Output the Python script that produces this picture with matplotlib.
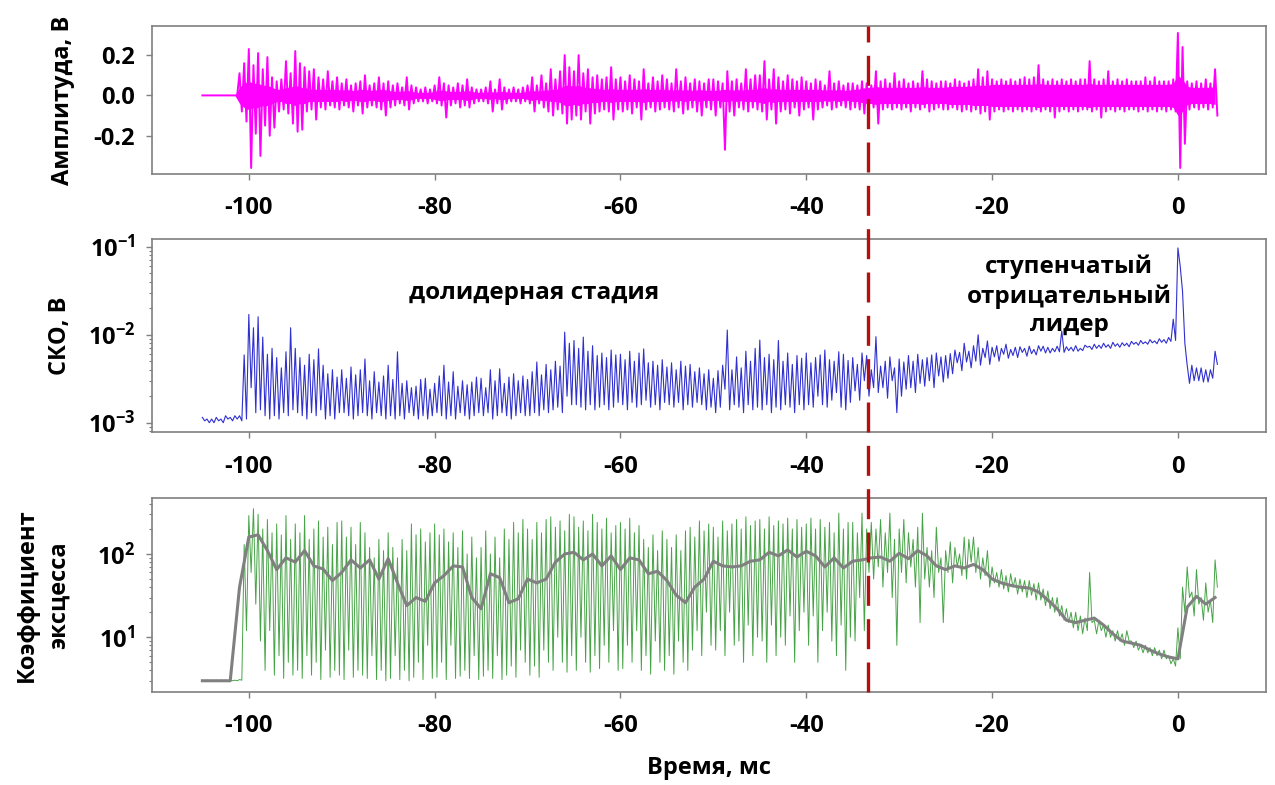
import numpy as np
import matplotlib
matplotlib.use('Agg')
import matplotlib.pyplot as plt
from matplotlib.lines import Line2D
from matplotlib.transforms import blended_transform_factory
from matplotlib.ticker import NullFormatter

plt.rcParams['font.family'] = ['Open Sans', 'DejaVu Sans']
plt.rcParams['font.weight'] = 'bold'
plt.rcParams['axes.unicode_minus'] = False
plt.rcParams['mathtext.fontset'] = 'custom'
plt.rcParams['mathtext.rm'] = 'Open Sans:bold'
plt.rcParams['mathtext.it'] = 'Open Sans:bold'
plt.rcParams['mathtext.bf'] = 'Open Sans:bold'
plt.rcParams['mathtext.default'] = 'regular'

# time grid, ms (bins of 0.5 ms, -105 .. 4)
t = np.arange(-105, 4.001, 0.5)

# amplitude, V: max and min in each bin
amp_hi = [0, 0, 0, 0, 0, 0, 0, 0, 0.11, 0.16,
          0.23, 0.15, 0.21, 0.13, 0.19, 0.09, 0.07, 0.08, 0.17, 0.11,
          0.22, 0.16, 0.14, 0.12, 0.13, 0.09, 0.08, 0.12, 0.07, 0.09,
          0.06, 0.08, 0.05, 0.06, 0.07, 0.10, 0.05, 0.06, 0.09, 0.06,
          0.07, 0.05, 0.06, 0.04, 0.09, 0.05, 0.04, 0.03, 0.04, 0.03,
          0.05, 0.09, 0.06, 0.05, 0.04, 0.06, 0.05, 0.08, 0.04, 0.03,
          0.03, 0.04, 0.07, 0.03, 0.08, 0.04, 0.03, 0.04, 0.03, 0.04,
          0.05, 0.09, 0.05, 0.10, 0.06, 0.13, 0.08, 0.12, 0.20, 0.14,
          0.12, 0.20, 0.11, 0.13, 0.09, 0.10, 0.08, 0.09, 0.14, 0.08,
          0.09, 0.07, 0.10, 0.08, 0.07, 0.13, 0.06, 0.09, 0.07, 0.10,
          0.08, 0.06, 0.13, 0.07, 0.09, 0.06, 0.08, 0.07, 0.06, 0.08,
          0.08, 0.07, 0.06, 0.12, 0.07, 0.08, 0.06, 0.13, 0.08, 0.10,
          0.10, 0.17, 0.08, 0.13, 0.09, 0.07, 0.10, 0.08, 0.07, 0.09,
          0.07, 0.06, 0.08, 0.07, 0.05, 0.12, 0.06, 0.07, 0.05, 0.06,
          0.06, 0.05, 0.07, 0.06, 0.05, 0.12, 0.07, 0.08, 0.06, 0.11,
          0.07, 0.08, 0.06, 0.07, 0.06, 0.12, 0.08, 0.07, 0.06, 0.07,
          0.07, 0.06, 0.08, 0.07, 0.06, 0.07, 0.08, 0.13, 0.09, 0.12,
          0.08, 0.07, 0.08, 0.07, 0.08, 0.07, 0.08, 0.09, 0.08, 0.09,
          0.15, 0.08, 0.07, 0.08, 0.07, 0.08, 0.07, 0.08, 0.07, 0.08,
          0.08, 0.17, 0.08, 0.07, 0.08, 0.12, 0.07, 0.08, 0.07, 0.08,
          0.07, 0.07, 0.07, 0.09, 0.07, 0.09, 0.07, 0.07, 0.07, 0.08,
          0.31, 0.24, 0.07, 0.06, 0.07, 0.06, 0.08, 0.06, 0.13]
amp_lo = [0, 0, 0, 0, 0, 0, 0, 0, -0.08, -0.13,
          -0.36, -0.19, -0.30, -0.15, -0.20, -0.16, -0.08, -0.07, -0.09, -0.14,
          -0.18, -0.17, -0.08, -0.07, -0.12, -0.06, -0.07, -0.05, -0.06, -0.07,
          -0.05, -0.06, -0.08, -0.05, -0.09, -0.06, -0.05, -0.06, -0.07, -0.10,
          -0.06, -0.05, -0.04, -0.05, -0.07, -0.04, -0.03, -0.03, -0.04, -0.03,
          -0.04, -0.05, -0.11, -0.05, -0.04, -0.06, -0.05, -0.06, -0.04, -0.03,
          -0.03, -0.04, -0.08, -0.04, -0.07, -0.04, -0.03, -0.03, -0.04, -0.03,
          -0.04, -0.08, -0.04, -0.06, -0.08, -0.10, -0.07, -0.09, -0.14, -0.12,
          -0.10, -0.12, -0.08, -0.14, -0.09, -0.08, -0.07, -0.08, -0.12, -0.07,
          -0.08, -0.07, -0.09, -0.06, -0.12, -0.07, -0.06, -0.08, -0.07, -0.06,
          -0.07, -0.08, -0.06, -0.09, -0.07, -0.06, -0.08, -0.10, -0.06, -0.07,
          -0.10, -0.06, -0.27, -0.08, -0.10, -0.06, -0.07, -0.08, -0.06, -0.07,
          -0.08, -0.12, -0.07, -0.14, -0.08, -0.07, -0.09, -0.06, -0.10, -0.07,
          -0.06, -0.12, -0.07, -0.06, -0.05, -0.07, -0.06, -0.05, -0.06, -0.07,
          -0.06, -0.07, -0.09, -0.05, -0.06, -0.14, -0.07, -0.06, -0.07, -0.06,
          -0.07, -0.06, -0.08, -0.06, -0.07, -0.06, -0.08, -0.07, -0.06, -0.07,
          -0.07, -0.06, -0.07, -0.08, -0.07, -0.08, -0.07, -0.09, -0.08, -0.12,
          -0.08, -0.07, -0.08, -0.07, -0.08, -0.07, -0.08, -0.07, -0.08, -0.07,
          -0.08, -0.07, -0.08, -0.11, -0.08, -0.07, -0.08, -0.07, -0.08, -0.07,
          -0.07, -0.08, -0.07, -0.11, -0.08, -0.07, -0.08, -0.07, -0.08, -0.07,
          -0.07, -0.08, -0.07, -0.08, -0.07, -0.08, -0.07, -0.08, -0.07, -0.08,
          -0.36, -0.24, -0.07, -0.06, -0.07, -0.06, -0.07, -0.06, -0.10]

# dense core of the amplitude band, V (half-width)
amp_core = [0, 0, 0, 0, 0, 0, 0, 0, 0.04, 0.06,
            0.07, 0.06, 0.06, 0.05, 0.05, 0.04, 0.03, 0.03, 0.04, 0.04,
            0.05, 0.04, 0.04, 0.03, 0.03, 0.03, 0.03, 0.03, 0.03, 0.03,
            0.025, 0.03, 0.025, 0.025, 0.03, 0.03, 0.025, 0.025, 0.03, 0.03,
            0.025, 0.02, 0.02, 0.02, 0.025, 0.02, 0.015, 0.015, 0.015, 0.015,
            0.02, 0.025, 0.025, 0.02, 0.02, 0.02, 0.02, 0.025, 0.02, 0.015,
            0.015, 0.015, 0.02, 0.015, 0.02, 0.02, 0.015, 0.015, 0.015, 0.015,
            0.02, 0.025, 0.02, 0.025, 0.025, 0.03, 0.03, 0.035, 0.05, 0.05,
            0.045, 0.05, 0.04, 0.04, 0.035, 0.035, 0.03, 0.03, 0.035, 0.03,
            0.03, 0.03, 0.03, 0.03, 0.03, 0.035, 0.03, 0.03, 0.03, 0.03,
            0.03, 0.025, 0.03, 0.025, 0.03, 0.025, 0.025, 0.03, 0.025, 0.025,
            0.025, 0.025, 0.03, 0.03, 0.025, 0.03, 0.025, 0.03, 0.03, 0.03,
            0.035, 0.04, 0.03, 0.035, 0.03, 0.03, 0.03, 0.03, 0.03, 0.03,
            0.03, 0.03, 0.03, 0.03, 0.025, 0.03, 0.025, 0.03, 0.025, 0.025,
            0.03, 0.03, 0.035, 0.04, 0.04, 0.045, 0.04, 0.04, 0.04, 0.04,
            0.04, 0.04, 0.04, 0.04, 0.04, 0.045, 0.04, 0.04, 0.04, 0.04,
            0.04, 0.045, 0.045, 0.045, 0.045, 0.045, 0.05, 0.05, 0.05, 0.05,
            0.055, 0.055, 0.055, 0.055, 0.055, 0.055, 0.055, 0.055, 0.055, 0.055,
            0.06, 0.055, 0.055, 0.055, 0.055, 0.055, 0.055, 0.055, 0.055, 0.055,
            0.055, 0.06, 0.055, 0.055, 0.055, 0.055, 0.055, 0.055, 0.055, 0.055,
            0.055, 0.055, 0.055, 0.055, 0.055, 0.055, 0.055, 0.055, 0.055, 0.06,
            0.1, 0.08, 0.045, 0.04, 0.04, 0.04, 0.04, 0.04, 0.045]

# СКО, mV: max and min in each bin
sko_hi = [1.15, 1.1, 1.1, 1.15, 1.1, 1.2, 1.15, 1.2, 1.2, 5.9,
          17, 12, 16, 9.4, 6.0, 7.0, 5.5, 4.2, 6.4, 12,
          7.0, 5.5, 4.5, 6.0, 5.2, 6.9, 4.5, 3.6, 4.0, 3.3,
          4.0, 3.2, 4.3, 3.5, 4.0, 5.3, 3.0, 3.8, 2.9, 3.4,
          4.5, 3.1, 6.4, 2.8, 3.0, 2.5, 2.6, 3.1, 3.2, 2.4,
          2.8, 3.4, 4.5, 2.9, 3.8, 2.6, 3.0, 2.7, 2.9, 3.3,
          3.2, 2.5, 4.0, 3.0, 4.1, 2.8, 3.3, 3.6, 3.0, 3.4,
          3.1, 3.8, 4.9, 3.5, 4.6, 4.0, 5.0, 4.4, 10.7, 8.0,
          8.6, 7.0, 9.4, 6.5, 7.5, 5.8, 6.2, 5.5, 6.7, 5.9,
          6.0, 5.2, 6.5, 5.0, 6.2, 6.9, 4.8, 5.0, 4.5, 5.2,
          4.3, 4.8, 4.0, 5.0, 4.4, 4.6, 3.8, 4.2, 3.6, 4.0,
          3.2, 3.9, 4.5, 11.3, 4.0, 5.6, 4.2, 6.5, 5.0, 7.0,
          8.7, 5.5, 6.0, 5.2, 8.6, 5.0, 6.2, 4.6, 5.8, 5.4,
          6.2, 4.8, 5.5, 5.9, 6.7, 5.2, 5.0, 6.4, 6.0, 5.1,
          5.5, 4.6, 6.2, 5.8, 4.0, 9.5, 4.4, 5.0, 5.6, 4.2,
          5.3, 4.9, 5.8, 5.0, 6.0, 5.2, 5.5, 5.9, 6.2, 5.6,
          5.8, 6.1, 6.7, 6.3, 8.0, 6.5, 7.5, 10.0, 7.0, 8.5,
          7.2, 7.5, 7.0, 7.8, 6.8, 7.2, 7.3, 7.0, 7.4, 6.8,
          7.5, 7.4, 7.2, 7.0, 7.4, 11.0, 7.3, 7.2, 7.5, 7.0,
          7.6, 7.4, 7.8, 7.6, 8.0, 7.7, 8.2, 7.9, 8.1, 8.0,
          8.4, 8.2, 8.6, 8.3, 8.8, 8.5, 9.0, 8.8, 9.3, 15,
          97, 31, 4.5, 4.5, 4.2, 4.2, 4.0, 4.0, 6.5]
sko_lo = [1.05, 1.0, 1.0, 1.05, 1.0, 1.1, 1.05, 1.1, 1.05, 1.1,
          2.5, 1.3, 1.4, 1.2, 1.1, 1.2, 1.1, 1.3, 1.2, 1.4,
          1.3, 1.2, 1.1, 1.3, 1.2, 1.4, 1.1, 1.2, 1.1, 1.3,
          1.3, 1.2, 1.1, 1.2, 1.3, 1.2, 1.1, 1.3, 1.2, 1.1,
          1.2, 1.1, 1.2, 1.1, 1.3, 1.2, 1.1, 1.2, 1.1, 1.2,
          1.3, 1.2, 1.1, 1.2, 1.1, 1.3, 1.2, 1.1, 1.2, 1.3,
          1.2, 1.3, 1.1, 1.2, 1.3, 1.2, 1.1, 1.2, 1.3, 1.2,
          1.2, 1.3, 1.2, 1.4, 1.3, 1.4, 1.5, 1.3, 2.0, 1.6,
          1.6, 1.5, 1.4, 1.6, 1.4, 1.5, 1.6, 1.4, 1.5, 1.7,
          1.6, 1.4, 1.7, 1.5, 1.6, 1.8, 1.5, 1.6, 1.4, 1.7,
          1.6, 1.5, 1.7, 1.4, 1.6, 1.5, 1.7, 1.6, 1.4, 1.5,
          1.3, 1.5, 2.4, 1.4, 1.6, 1.5, 1.3, 1.6, 1.4, 1.5,
          1.4, 1.6, 1.3, 1.5, 1.4, 1.6, 1.5, 1.3, 1.6, 1.4,
          1.6, 1.5, 2.0, 1.6, 1.5, 1.8, 2.2, 1.5, 1.4, 1.7,
          2.3, 1.8, 3.0, 2.0, 2.5, 2.2, 2.5, 1.9, 3.0, 1.3,
          2.0, 2.4, 2.5, 2.2, 2.8, 2.6, 3.0, 2.5, 3.4, 2.9,
          3.2, 3.6, 4.8, 3.9, 4.9, 4.2, 5.0, 4.5, 5.5, 4.6,
          5.6, 5.0, 6.0, 5.4, 5.8, 5.5, 6.3, 5.7, 6.1, 5.9,
          6.5, 6.2, 6.2, 6.4, 6.4, 6.3, 6.6, 6.5, 6.5, 6.6,
          7.2, 6.8, 7.0, 7.0, 7.2, 7.0, 7.4, 7.2, 7.5, 7.3,
          7.8, 7.6, 7.9, 7.8, 8.1, 7.9, 8.2, 8.0, 8.4, 8.6,
          60, 8.0, 2.8, 3.0, 3.0, 2.9, 2.9, 3.2, 4.6]

# коэффициент эксцесса: max and min in each bin
kurt_hi = [3.05, 3.05, 3.05, 3.05, 3.05, 3.05, 3.05, 3.05, 3.1, 130,
           290, 350, 300, 200, 260, 180, 230, 170, 290, 150,
           230, 180, 290, 150, 200, 250, 160, 210, 130, 240,
           250, 160, 210, 130, 240, 180, 120, 90, 150, 110,
           180, 120, 90, 150, 110, 230, 170, 200, 140, 180,
           230, 170, 200, 140, 180, 120, 190, 100, 160, 90,
           120, 190, 100, 160, 90, 200, 150, 240, 180, 260,
           200, 150, 240, 180, 260, 280, 210, 250, 190, 300,
           280, 210, 250, 190, 300, 240, 200, 270, 180, 220,
           240, 200, 270, 180, 220, 150, 120, 170, 110, 190,
           150, 120, 170, 110, 190, 210, 160, 250, 190, 230,
           210, 160, 250, 190, 230, 260, 200, 280, 220, 250,
           260, 200, 280, 220, 250, 230, 270, 200, 260, 210,
           230, 270, 200, 260, 210, 240, 180, 310, 200, 240,
           240, 180, 310, 200, 240, 200, 260, 180, 310, 150,
           200, 260, 180, 150, 210, 310, 120, 110, 210, 90,
           110, 140, 120, 100, 160, 150, 160, 120, 90, 110,
           70, 60, 65, 55, 58, 52, 50, 48, 48, 44,
           45, 38, 36, 30, 30, 24, 22, 20, 20, 18,
           17, 60, 16, 16, 14, 14, 12, 12, 11, 12,
           9, 9, 8, 8, 7.5, 7.5, 7, 7, 6, 5.5,
           13, 40, 70, 35, 65, 30, 45, 28, 85]
kurt_lo = [3.0, 3.0, 3.0, 3.0, 3.0, 3.0, 3.0, 3.0, 3.05, 12,
           60, 25, 9, 4, 12, 3.5, 6, 3.2, 5, 3.5,
           4, 3.2, 6, 3.5, 5, 3.1, 7, 3.3, 4, 3.5,
           3.1, 7, 3.3, 4, 3.5, 3.2, 6, 3.1, 4, 3.0,
           3.2, 6, 3.1, 4, 3.0, 3.3, 5, 3.1, 8, 3.2,
           3.3, 5, 3.1, 8, 3.2, 3.4, 4, 3.2, 6, 3.1,
           3.4, 4, 3.2, 6, 3.1, 3.5, 4.5, 3.3, 7, 5,
           3.5, 4.5, 3.3, 7, 5, 4, 10, 5, 3.8, 6,
           4, 10, 5, 3.8, 6, 4.2, 8, 5, 12, 4,
           4.2, 8, 5, 12, 4, 6, 3.6, 9, 5, 4,
           6, 3.6, 9, 5, 4, 7, 12, 6, 20, 8,
           7, 12, 6, 20, 8, 9, 5, 14, 6, 10,
           9, 5, 14, 6, 10, 8, 18, 5, 12, 20,
           8, 18, 5, 12, 20, 9, 6, 14, 4, 10,
           9, 30, 12, 60, 50, 70, 40, 60, 30, 8,
           60, 45, 70, 40, 15, 50, 40, 30, 60, 15,
           60, 45, 70, 55, 50, 80, 60, 50, 55, 40,
           45, 40, 38, 35, 40, 33, 35, 30, 32, 28,
           28, 24, 22, 20, 18, 16, 15, 13, 12, 11,
           12, 15, 11, 12, 10, 10, 9, 9, 8, 9,
           7.5, 7, 6.5, 6.5, 6, 6, 5.5, 5.5, 4.8, 4.5,
           5.5, 20, 30, 18, 25, 16, 20, 15, 40]

# сглаженный коэффициент эксцесса, шаг 1 мс
t_smooth = np.arange(-105, 4.001, 1.0)
kurt_smooth = [3.0, 3.0, 3.0, 3.0, 40, 160, 170, 110, 65, 90,
               80, 110, 72, 66, 48, 60, 85, 68, 85, 50,
               88, 45, 24, 30, 27, 45, 55, 72, 70, 30,
               22, 58, 52, 26, 29, 50, 45, 50, 80, 100,
               105, 85, 100, 72, 95, 65, 90, 85, 58, 62,
               48, 32, 26, 40, 50, 82, 72, 70, 72, 82,
               85, 105, 95, 112, 92, 108, 95, 70, 90, 68,
               82, 85, 90, 92, 82, 102, 88, 110, 95, 72,
               65, 72, 68, 75, 65, 50, 45, 42, 40, 39,
               35, 28, 22, 16, 15, 16, 17, 14, 11, 9,
               8.5, 8, 7, 6.3, 5.8, 5.5, 23, 31, 25, 30]

t_leader = -33.4


def zigzag(hi, lo):
    # max at the start of a bin, min in its middle
    return np.column_stack([hi, lo]).ravel()


t_fine = np.column_stack([t, t + 0.25]).ravel()

fig = plt.figure(figsize=(12.75, 7.85), dpi=100)
ax1 = fig.add_axes([0.119, 0.7783, 0.8737, 0.1885])
ax2 = fig.add_axes([0.119, 0.4493, 0.8737, 0.2462])
ax3 = fig.add_axes([0.119, 0.1185, 0.8737, 0.2467])

core = np.array(amp_core)
ax1.fill_between(t, -core, core, color='#ff00ff', lw=0)
ax1.plot(t_fine, zigzag(amp_hi, amp_lo), color='#ff00ff', lw=1.4)
ax1.set_ylim(-0.39, 0.344)
ax1.set_yticks([-0.2, 0.0, 0.2], labels=['-0.2', '0.0', '0.2'])
ax1.set_ylabel('Амплитуда, В', fontsize=17, fontweight='bold', va='center')
ax1.yaxis.set_label_coords(-0.08, 0.5)

ax2.plot(t_fine, zigzag(sko_hi, sko_lo) * 1e-3, color='#3030d0', lw=0.8)
ax2.set_yscale('log')
ax2.set_ylim(7.78e-4, 0.1223)
ax2.set_yticks([1e-3, 1e-2, 1e-1], labels=[r'$10^{-3}$', r'$10^{-2}$', r'$10^{-1}$'])
ax2.set_ylabel('СКО, В', fontsize=17, fontweight='bold', va='center')
ax2.yaxis.set_label_coords(-0.0823, 0.5)
ax2.text(-69.3, 0.0298, 'долидерная стадия', fontsize=17.5, fontweight='bold',
         ha='center', va='center')
ax2.text(-11.7, 0.0275, 'ступенчатый\nотрицательный\nлидер', fontsize=17.5,
         fontweight='bold', ha='center', va='center', linespacing=1.25)

ax3.plot(t_fine, zigzag(kurt_hi, kurt_lo), color='#339933', lw=0.7, alpha=0.9)
ax3.plot(t_smooth, kurt_smooth, color='#808080', lw=2.2)
ax3.set_yscale('log')
ax3.set_ylim(2.2, 467)
ax3.set_yticks([10, 100], labels=[r'$10^{1}$', r'$10^{2}$'])
ax3.set_ylabel('Коэффициент\nэксцесса', fontsize=17, fontweight='bold',
               va='center', linespacing=1.45)
ax3.yaxis.set_label_coords(-0.0976, 0.5)
ax3.set_xlabel('Время, мс', fontsize=17, fontweight='bold', va='center')
ax3.xaxis.set_label_coords(0.5, -0.392)

for ax in (ax1, ax2, ax3):
    ax.set_xlim(-110.45, 9.45)
    ax.set_xticks([-100, -80, -60, -40, -20, 0])
    ax.tick_params(axis='both', which='major', length=4, width=1, color='#7f7f7f',
                   labelsize=17)
    ax.tick_params(axis='x', pad=12)
    ax.tick_params(axis='y', pad=8)
    ax.tick_params(axis='y', which='minor', length=2, width=0.8, color='#7f7f7f')
    ax.yaxis.set_minor_formatter(NullFormatter())
    for s in ax.spines.values():
        s.set_color('#7f7f7f')
        s.set_linewidth(1.2)

# граница стадий через все панели
trans = blended_transform_factory(ax3.transData, fig.transFigure)
fig.add_artist(Line2D([t_leader, t_leader], [0.1185, 0.9669], transform=trans,
                      color='#b50f0f', lw=2.4, linestyle=(0, (9, 4))))

fig.savefig('out.png', dpi=100)
